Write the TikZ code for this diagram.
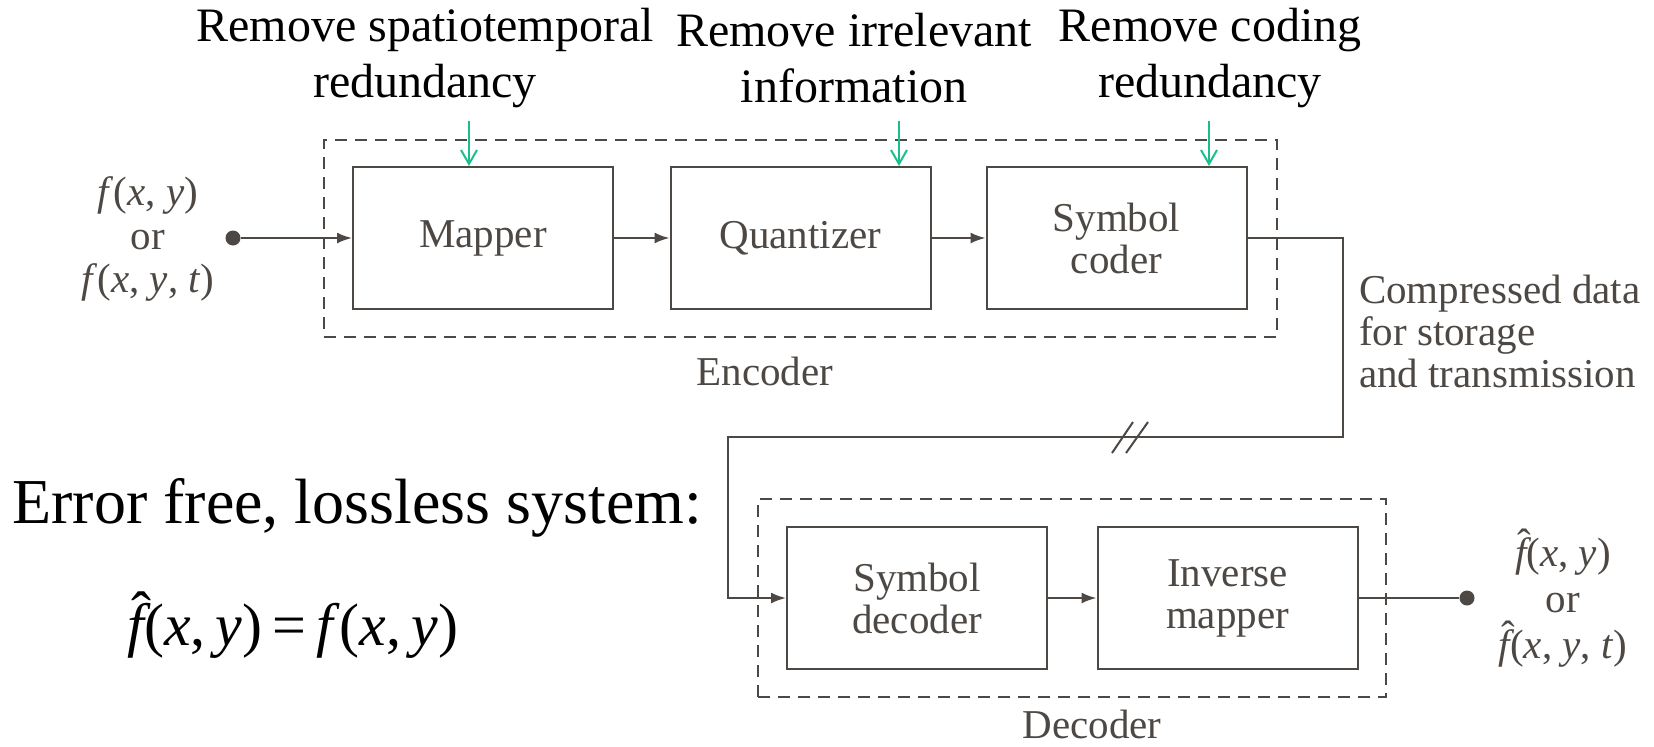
\documentclass[tikz,border=0pt]{standalone}
\usepackage{fontspec}
\setmainfont{Liberation Serif}
\usetikzlibrary{arrows.meta}
\definecolor{ink}{RGB}{77,72,67}
\definecolor{mint}{RGB}{24,190,140}
% f with a hat on top
\newcommand{\hatf}{\ooalign{\itshape f\cr\hidewidth\kern0.18em\raisebox{0.2em}{\char"02C6}\hidewidth\cr}}

\begin{document}
\begin{tikzpicture}[x=0.5pt, y=-0.5pt,
    block/.style={draw=ink, line width=1pt, minimum width=130pt, minimum height=71pt,
        align=center, text=ink, font=\rmfamily\fontsize{20.5}{21}\selectfont},
    dashbox/.style={draw=ink, line width=1pt, dash pattern=on 6pt off 4pt, inner sep=0pt},
    flow/.style={draw=ink, line width=1pt, -{Latex[length=7.5pt,width=5.5pt]}},
    hint/.style={draw=mint, line width=1pt, -{Straight Barb[length=7pt,width=8pt]}},
    note/.style={align=center, font=\rmfamily\fontsize{24}{28}\selectfont},
    lbl/.style={text=ink, align=center, font=\rmfamily\fontsize{20.5}{21.5}\selectfont},
    dot/.style={circle, fill=ink, inner sep=0pt, minimum size=7.5pt}]
    \useasboundingbox (0,0) rectangle (1654,746);

    % Dashed frames
    \node[dashbox, minimum width=476.5pt, minimum height=98.5pt] (enc) at (800.5,238.5) {};
    \node[dashbox, minimum width=314pt, minimum height=99pt] (dec) at (1072,598) {};
    \node[lbl] (enclbl) at (765,371) {Encoder};
    \node[lbl] (declbl) at (1092,724) {Decoder};

    % Encoder blocks
    \node[block] (mapper) at (483,238) {Mapper};
    \node[block] (quant) at (800.5,238) {Quantizer};
    \node[block] (symcoder) at (1116.5,238) {Symbol\\coder};

    % Decoder blocks
    \node[block] (symdec) at (917,598) {Symbol\\decoder};
    \node[block] (invmap) at (1227.5,598) {Inverse\\mapper};

    % Input and output
    \node[dot] (src) at (233,238) {};
    \node[dot] (dst) at (1467,598) {};
    \node[lbl, font=\rmfamily\fontsize{20.5}{21.75}\selectfont] (srclbl) at (148,239)
        {\textit{f}(\textit{x}, \textit{y})\\or\\\textit{f}(\textit{x}, \textit{y}, \textit{t})};
    \node[lbl, font=\rmfamily\fontsize{20.5}{23}\selectfont] (dstlbl) at (1563,602)
        {\hatf(\textit{x}, \textit{y})\\or\\\hatf(\textit{x}, \textit{y}, \textit{t})};

    % Flow
    \draw[flow] (src) -- (mapper.west);
    \draw[flow] (mapper) -- (quant);
    \draw[flow] (quant) -- (symcoder);
    \coordinate (turnA) at (1343,437);
    \coordinate (turnB) at (728,437);
    \draw[flow] (symcoder.east) -| (turnA) -- (turnB) |- (symdec.west);
    \draw[flow] (symdec) -- (invmap);
    \draw[draw=ink, line width=1pt] (invmap.east) -- (dst);

    % Channel break
    \draw[ink, line width=1pt] (1112,453) -- (1133,422);
    \draw[ink, line width=1pt] (1126,453) -- (1148,422);
    \node[lbl, anchor=west, align=left, font=\rmfamily\fontsize{20.5}{21}\selectfont] (chan) at (1352,331)
        {Compressed data\\for storage\\and transmission};

    % Notes on top
    \node[note] (noteA) at (425,58) {Remove spatiotemporal\\redundancy};
    \node[note] (noteB) at (854,58) {Remove irrelevant\\information};
    \node[note] (noteC) at (1210,58) {Remove coding\\redundancy};
    \coordinate (hintA) at (469,121);
    \coordinate (hintB) at (899,121);
    \coordinate (hintC) at (1209,121);
    \draw[hint] (hintA) -- (hintA |- mapper.north);
    \draw[hint] (hintB) -- (hintB |- quant.north);
    \draw[hint] (hintC) -- (hintC |- symcoder.north);

    % Lossless case
    \node[anchor=base west, inner sep=0pt, font=\rmfamily\fontsize{32}{36}\selectfont] (loss) at (12,523)
        {Error free, lossless system:};
    \node[anchor=base west, inner sep=0pt, font=\rmfamily\fontsize{30}{34}\selectfont] (eq) at (127,645)
        {\hatf(\textit{x},\,\textit{y})\,=\,\textit{f}(\textit{x},\,\textit{y})};
\end{tikzpicture}
\end{document}
